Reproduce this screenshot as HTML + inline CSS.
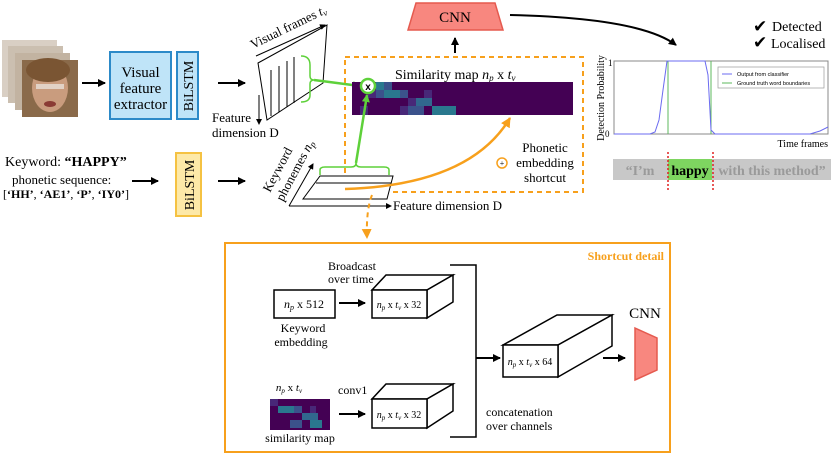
<!DOCTYPE html>
<html><head><meta charset="utf-8"><style>
body{margin:0;background:#fff}
svg{display:block;font-family:"Liberation Serif",serif}
</style></head><body>
<svg width="831" height="455" viewBox="0 0 831 455" xmlns="http://www.w3.org/2000/svg">
<defs>
<marker id="ab" markerWidth="8" markerHeight="8" refX="7" refY="4" orient="auto" markerUnits="userSpaceOnUse"><path d="M0,0 L8,4 L0,8z" fill="#000"/></marker>
<marker id="ag" markerWidth="8" markerHeight="8" refX="7" refY="4" orient="auto" markerUnits="userSpaceOnUse"><path d="M0,0 L8,4 L0,8z" fill="#5ed13a"/></marker>
<marker id="ao" markerWidth="10" markerHeight="10" refX="9" refY="5" orient="auto" markerUnits="userSpaceOnUse"><path d="M0,0 L10,5 L0,10z" fill="#f7a01c"/></marker>
<marker id="as" markerWidth="6" markerHeight="6" refX="5" refY="3" orient="auto" markerUnits="userSpaceOnUse"><path d="M0,0 L6,3 L0,6z" fill="#000"/></marker>
</defs>
<!-- faces -->
<g>
<rect x="2" y="40" width="55" height="57" fill="#d9cfc4"/>
<rect x="8" y="46" width="55" height="57" fill="#cbbfb0"/>
<rect x="15" y="53" width="55" height="57" fill="#c2b3a1"/>
<rect x="22" y="60" width="56" height="57" fill="#8a6a4a"/>
<ellipse cx="50" cy="88" rx="18" ry="24" fill="#c99c7e"/>
<ellipse cx="48" cy="70" rx="22" ry="12" fill="#7a5533"/>
<rect x="36" y="84" width="28" height="5" fill="#e8e0d8" opacity="0.8"/>
<ellipse cx="50" cy="104" rx="6" ry="3" fill="#8a3b34"/>
</g>
<line x1="82" y1="83" x2="105" y2="83" stroke="#000" stroke-width="2" marker-end="url(#ab)"/>
<rect x="110" y="52" width="61" height="67" fill="#bfe4f8" stroke="#2c8ac8" stroke-width="2"/>
<text x="140.5" y="77" font-size="15" text-anchor="middle">Visual</text>
<text x="140.5" y="93" font-size="15" text-anchor="middle">feature</text>
<text x="140.5" y="109" font-size="15" text-anchor="middle">extractor</text>
<rect x="177" y="52" width="21" height="67" fill="#bfe4f8" stroke="#2c8ac8" stroke-width="2"/>
<text transform="translate(193,86) rotate(-90)" font-size="14" text-anchor="middle">BiLSTM</text>
<line x1="218" y1="83" x2="245" y2="83" stroke="#000" stroke-width="2" marker-end="url(#ab)"/>
<!-- visual frames -->
<polygon points="258,63 327,25 323,83 267,120" fill="#fff" stroke="#000" stroke-width="1"/>
<line x1="271" y1="70" x2="271" y2="116" stroke="#000"/>
<line x1="279" y1="66" x2="279" y2="112" stroke="#000"/>
<line x1="287" y1="61" x2="287" y2="107" stroke="#000"/>
<line x1="294" y1="57" x2="294" y2="103" stroke="#000"/>
<line x1="256" y1="56" x2="325" y2="25" stroke="#000" marker-end="url(#as)"/>
<text transform="translate(253,49) rotate(-26)" font-size="13">Visual frames <tspan font-style="italic">t</tspan><tspan font-size="9" font-style="italic" dy="2">v</tspan></text>
<line x1="259" y1="95" x2="259" y2="124" stroke="#000" marker-end="url(#as)"/>
<text x="212" y="122" font-size="13">Feature</text>
<text x="212" y="137" font-size="13">dimension D</text>
<path d="M301,56 Q310,56 310,65 L310,76 Q310,80 314,80 Q310,80 310,84 L310,95 Q310,102 301,102" fill="none" stroke="#5ed13a" stroke-width="1.5"/>
<line x1="314" y1="80" x2="360" y2="86" stroke="#5ed13a" stroke-width="2.5" marker-end="url(#ag)"/>
<!-- dashed box -->
<rect x="345" y="57" width="238" height="135" fill="none" stroke="#f7a01c" stroke-width="2" stroke-dasharray="5,4"/>
<text x="395" y="79" font-size="14">Similarity map <tspan font-style="italic">n</tspan><tspan font-size="9" font-style="italic" dy="2">p</tspan><tspan dy="-2"> x </tspan><tspan font-style="italic">t</tspan><tspan font-size="9" font-style="italic" dy="2">v</tspan></text>
<rect x="352" y="82" width="221" height="33" fill="#440154"/>
<g>
<rect x="376" y="82" width="8" height="8" fill="#2a788e"/><rect x="384" y="82" width="8" height="8" fill="#3b528b"/>
<rect x="368" y="90" width="8" height="8" fill="#482878"/><rect x="376" y="90" width="8" height="8" fill="#3b528b"/><rect x="384" y="90" width="16" height="8" fill="#2a788e"/><rect x="400" y="90" width="8" height="8" fill="#3b528b"/><rect x="424" y="90" width="8" height="8" fill="#482878"/>
<rect x="408" y="98" width="8" height="8" fill="#482878"/><rect x="416" y="98" width="16" height="8" fill="#31688e"/>
<rect x="360" y="106" width="8" height="9" fill="#482878"/><rect x="400" y="106" width="8" height="9" fill="#482878"/><rect x="408" y="106" width="16" height="9" fill="#3b528b"/><rect x="432" y="106" width="24" height="9" fill="#2a788e"/>
</g>
<circle cx="368" cy="86" r="7" fill="#fff" stroke="#5ed13a" stroke-width="2.5"/>
<text x="368" y="90" font-size="10" font-weight="bold" font-family="Liberation Sans,sans-serif" text-anchor="middle">x</text>
<!-- CNN top -->
<polygon points="416,3 495,3 503,30 408,30" fill="#f8877f" stroke="#e55a4f" stroke-width="1.5"/>
<text x="455" y="22" font-size="15" text-anchor="middle">CNN</text>
<line x1="455" y1="53" x2="455" y2="38" stroke="#000" stroke-width="2" marker-end="url(#ab)"/>
<path d="M510,15 Q640,18 676,45" fill="none" stroke="#000" stroke-width="2" marker-end="url(#ab)"/>
<!-- detected -->
<text x="753" y="32" font-size="17">✔</text><text x="772" y="31" font-size="14">Detected</text>
<text x="753" y="48" font-size="17">✔</text><text x="771" y="48" font-size="14">Localised</text>
<!-- chart -->
<rect x="614" y="61" width="214" height="73" fill="#fff" stroke="#888" stroke-width="1"/>
<text transform="translate(604,98) rotate(-90)" font-size="10" text-anchor="middle">Detection Probability</text>
<text x="608" y="66" font-size="9">1</text><text x="605" y="137" font-size="9">0</text>
<line x1="668" y1="61" x2="668" y2="134" stroke="#5cb85c"/>
<line x1="711" y1="61" x2="711" y2="134" stroke="#5cb85c"/>
<polyline points="614,134 650,134 655,132 659,120 663,90 667,61 705,61 708,75 711,130 715,134 810,134 820,131 828,127" fill="none" stroke="#6b6bf0" stroke-width="1"/>
<rect x="718" y="67" width="106" height="21" fill="#fff" stroke="#999" stroke-width="0.7"/>
<line x1="722" y1="74" x2="732" y2="74" stroke="#6b6bf0"/><text x="737" y="76" font-size="5.5" font-family="Liberation Sans,sans-serif">Output from classifier</text>
<line x1="722" y1="83" x2="732" y2="83" stroke="#5cb85c"/><text x="737" y="85" font-size="5.5" font-family="Liberation Sans,sans-serif">Ground truth word boundaries</text>
<text x="828" y="147" font-size="10" text-anchor="end">Time frames</text>
<!-- sentence bar -->
<rect x="613" y="159" width="218" height="21" fill="#c8c8c8"/>
<rect x="668" y="159" width="44" height="21" fill="#7ed560"/>
<text x="640" y="175" font-size="14" font-weight="bold" fill="#9a9a9a" text-anchor="middle">“I’m</text>
<text x="690" y="175" font-size="14" font-weight="bold" text-anchor="middle">happy</text>
<text x="772" y="175" font-size="14" font-weight="bold" fill="#9a9a9a" text-anchor="middle">with this method”</text>
<line x1="668" y1="152" x2="668" y2="192" stroke="#e02020" stroke-width="1.5" stroke-dasharray="2,2"/>
<line x1="713" y1="152" x2="713" y2="192" stroke="#e02020" stroke-width="1.5" stroke-dasharray="2,2"/>
<!-- keyword -->
<text x="5" y="166" font-size="14">Keyword: <tspan font-weight="bold">“HAPPY”</tspan></text>
<text x="12" y="184" font-size="13">phonetic sequence:</text>
<text x="3" y="198" font-size="12">[<tspan font-weight="bold">‘HH’</tspan>, <tspan font-weight="bold">‘AE1’</tspan>, <tspan font-weight="bold">‘P’</tspan>, <tspan font-weight="bold">‘IY0’</tspan>]</text>
<line x1="132" y1="181" x2="158" y2="181" stroke="#000" stroke-width="2" marker-end="url(#ab)"/>
<rect x="176" y="153" width="25" height="63" fill="#fde9a8" stroke="#f5c242" stroke-width="2"/>
<text transform="translate(194,185) rotate(-90)" font-size="14" text-anchor="middle">BiLSTM</text>
<line x1="218" y1="181" x2="245" y2="181" stroke="#000" stroke-width="2" marker-end="url(#ab)"/>
<!-- phonemes -->
<polygon points="320,176 393,176 387,199 303,199" fill="#fff" stroke="#000"/>
<line x1="316" y1="183" x2="391" y2="183" stroke="#000"/>
<line x1="289" y1="206" x2="313" y2="164" stroke="#000" marker-end="url(#as)"/>
<line x1="289" y1="206" x2="391" y2="206" stroke="#000" marker-end="url(#as)"/>
<text x="393" y="210" font-size="13">Feature dimension D</text>
<text transform="translate(270,193) rotate(-62)" font-size="13">Keyword</text>
<text transform="translate(283,202) rotate(-62)" font-size="13">phonemes <tspan font-style="italic">n</tspan><tspan font-size="9" font-style="italic" dy="2">p</tspan></text>
<path d="M320,175 L320,170 Q320,167 325,167 L351,167 Q356,167 356,163 Q356,167 361,167 L384,167 Q389,167 389,170 L389,175" fill="none" stroke="#5ed13a" stroke-width="1.5"/>
<line x1="356" y1="163" x2="367" y2="95" stroke="#5ed13a" stroke-width="2.5" marker-end="url(#ag)"/>
<path d="M345,189 Q470,185 510,118" fill="none" stroke="#f7a01c" stroke-width="2.5" marker-end="url(#ao)"/>
<circle cx="502" cy="163" r="5" fill="#fff" stroke="#f7a01c" stroke-width="1.5"/>
<text x="502" y="166" font-size="8" text-anchor="middle">+</text>
<text x="545" y="152" font-size="13" text-anchor="middle">Phonetic</text>
<text x="545" y="167" font-size="13" text-anchor="middle">embedding</text>
<text x="545" y="182" font-size="13" text-anchor="middle">shortcut</text>
<path d="M372,195 Q366,210 367,238" fill="none" stroke="#f7a01c" stroke-width="2" stroke-dasharray="5,4" marker-end="url(#ao)"/>
<!-- shortcut detail box -->
<rect x="225" y="243" width="445" height="209" fill="#fff" stroke="#f7a01c" stroke-width="2"/>
<text x="664" y="260" font-size="12" font-weight="bold" fill="#f7a01c" text-anchor="end">Shortcut detail</text>
<rect x="274" y="290" width="61" height="28" fill="#fff" stroke="#000" stroke-width="1.5"/>
<text x="304" y="308" font-size="12" text-anchor="middle"><tspan font-style="italic">n</tspan><tspan font-size="8" font-style="italic" dy="2">p</tspan><tspan dy="-2"> x 512</tspan></text>
<text x="303" y="332" font-size="12" text-anchor="middle">Keyword</text>
<text x="301" y="346" font-size="12" text-anchor="middle">embedding</text>
<line x1="339" y1="303" x2="365" y2="303" stroke="#000" stroke-width="2" marker-end="url(#ab)"/>
<text x="328" y="270" font-size="12">Broadcast</text>
<text x="328" y="283" font-size="12">over time</text>
<g fill="#fff" stroke="#000" stroke-width="1.5">
<polygon points="372,290 386,275 453,275 427,290"/><polygon points="427,290 453,275 453,302 427,318"/><rect x="372" y="290" width="55" height="28"/>
<polygon points="372,399 386,384 453,384 427,399"/><polygon points="427,399 453,384 453,411 427,428"/><rect x="372" y="399" width="55" height="29"/>
<polygon points="503,345 557,315 612,315 558,345"/><polygon points="558,345 612,315 612,346 558,377"/><rect x="503" y="345" width="55" height="32"/>
</g>
<text x="399" y="308" font-size="10" text-anchor="middle"><tspan font-style="italic">n</tspan><tspan font-size="7" font-style="italic" dy="2">p</tspan><tspan dy="-2"> x </tspan><tspan font-style="italic">t</tspan><tspan font-size="7" font-style="italic" dy="2">v</tspan><tspan dy="-2"> x 32</tspan></text>
<text x="399" y="418" font-size="10" text-anchor="middle"><tspan font-style="italic">n</tspan><tspan font-size="7" font-style="italic" dy="2">p</tspan><tspan dy="-2"> x </tspan><tspan font-style="italic">t</tspan><tspan font-size="7" font-style="italic" dy="2">v</tspan><tspan dy="-2"> x 32</tspan></text>
<text x="530" y="365" font-size="10" text-anchor="middle"><tspan font-style="italic">n</tspan><tspan font-size="7" font-style="italic" dy="2">p</tspan><tspan dy="-2"> x </tspan><tspan font-style="italic">t</tspan><tspan font-size="7" font-style="italic" dy="2">v</tspan><tspan dy="-2"> x 64</tspan></text>
<text x="289" y="391" font-size="11" text-anchor="middle"><tspan font-style="italic">n</tspan><tspan font-size="7" font-style="italic" dy="2">p</tspan><tspan dy="-2"> x </tspan><tspan font-style="italic">t</tspan><tspan font-size="7" font-style="italic" dy="2">v</tspan></text>
<rect x="270" y="399" width="60" height="31" fill="#440154"/>
<rect x="270" y="399" width="8" height="7" fill="#482878"/><rect x="278" y="406" width="16" height="7" fill="#2a788e"/><rect x="294" y="406" width="8" height="7" fill="#3b528b"/><rect x="302" y="413" width="16" height="7" fill="#31688e"/><rect x="310" y="420" width="12" height="8" fill="#2a788e"/><rect x="290" y="420" width="12" height="8" fill="#3b528b"/><rect x="310" y="406" width="6" height="7" fill="#482878"/>
<text x="300" y="442" font-size="12" text-anchor="middle">similarity map</text>
<text x="338" y="394" font-size="12">conv1</text>
<line x1="339" y1="414" x2="365" y2="414" stroke="#000" stroke-width="2" marker-end="url(#ab)"/>
<polyline points="450,265 476,265 476,437 450,437" fill="none" stroke="#000" stroke-width="1.5"/>
<line x1="476" y1="358" x2="500" y2="358" stroke="#000" stroke-width="2" marker-end="url(#ab)"/>
<text x="486" y="416" font-size="12">concatenation</text>
<text x="486" y="430" font-size="12">over channels</text>
<line x1="603" y1="358" x2="625" y2="358" stroke="#000" stroke-width="2" marker-end="url(#ab)"/>
<polygon points="635,328 657,338 657,370 635,380" fill="#f8877f" stroke="#e55a4f" stroke-width="1.5"/>
<text x="645" y="318" font-size="15" text-anchor="middle">CNN</text>
</svg>
</body></html>
